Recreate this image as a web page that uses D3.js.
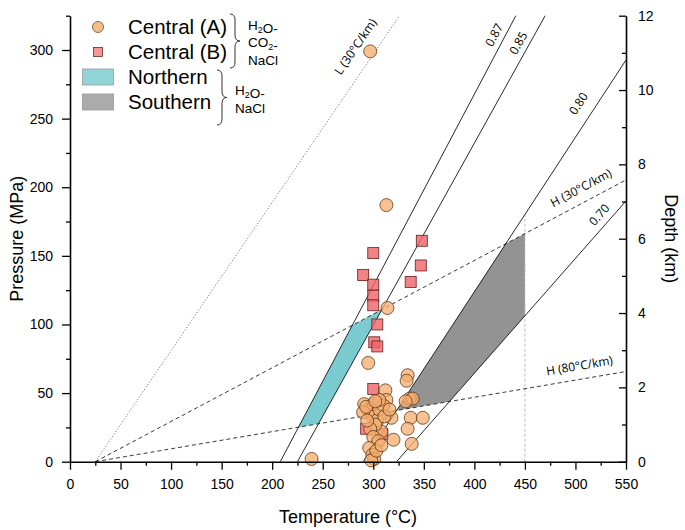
<!DOCTYPE html>
<html>
<head>
<meta charset="utf-8">
<script src="https://cdn.jsdelivr.net/npm/d3@7/dist/d3.min.js"></script>
<style>
  body { margin: 0; background: #fff; }
  svg text { font-family: "Liberation Sans", Arial, sans-serif; }
</style>
</head>
<body>
<div id="chart"></div>
<script>
// data
const tempTicks = d3.range(0, 551, 50)
const pressTicks = d3.range(0, 301, 50)
const depthTicks = d3.range(0, 13, 2)

// Central (A) fluid inclusions, [T degC, P MPa]
const centralA = [
  [297, 299], [313, 187], [314, 112], [295, 72], [312, 52], [239, 2],
  [334, 63], [333, 59], [336, 46], [339, 46], [332, 44], [337, 32], [318, 32],
  [349, 32], [334, 24], [338, 13], [313, 45], [308, 22], [291, 42], [295, 37],
  [298, 34], [290, 36], [300, 42], [304, 30], [293, 40], [302, 27], [297, 24],
  [306, 38], [310, 41], [300, 18], [305, 15], [296, 10], [299, 5], [301, 2],
  [298, 1], [303, 8], [308, 12], [294, 30], [311, 33], [306, 45], [316, 38],
  [302, 44], [320, 16]
]
// Central (B)
const centralB = [
  [300, 152], [290, 136], [300, 129], [300, 121], [300, 114], [304, 100],
  [301, 87], [304, 84], [300, 53], [293, 24], [309, 20], [348, 161],
  [347, 143], [337, 131]
]

// isochores and gradients: two points each [T, P]
const iso087 = [[208, 0], [441, 325]]
const iso085 = [[225, 0], [470, 325]]
const iso080 = [[290, 0], [550, 292.7]]
const iso070 = [[323, 0], [550, 190]]
const hydro30 = [[25, 0], [550, 205.3]]
const hydro80 = [[25, 0], [550, 65.7]]
const litho30 = [[25, 0], [326, 325]]
const tempCut = 450

const W = 685, H = 530
const M = {left: 70, right: 59, top: 15.7, bottom: 68.3}

const x = d3.scaleLinear().domain([0, 550]).range([M.left, W - M.right])
const y = d3.scaleLinear().domain([0, 325]).range([H - M.bottom, M.top])
const yDepth = d3.scaleLinear().domain([0, 12]).range([H - M.bottom, M.top])

const svg = d3.select("#chart").append("svg")
    .attr("width", W)
    .attr("height", H)

/// helpers
const slope = l => (l[1][1] - l[0][1]) / (l[1][0] - l[0][0])
const pAt = (l, t) => l[0][1] + slope(l) * (t - l[0][0])
const cross = (a, b) => {
    // intersection of two straight lines in T-P space
    const t = (b[0][1] - a[0][1] + slope(a) * a[0][0] - slope(b) * b[0][0]) / (slope(a) - slope(b))
    return [t, pAt(a, t)]
}
const angle = l => Math.atan2(y(l[1][1]) - y(l[0][1]), x(l[1][0]) - x(l[0][0])) * 180 / Math.PI

const line = d3.line().x(d => x(d[0])).y(d => y(d[1]))

// regions, both bounded by the two hydrostatic gradients
const northern = [cross(iso087, hydro80), cross(iso085, hydro80), cross(iso085, hydro30), cross(iso087, hydro30)]
const southern = [cross(iso080, hydro80), cross(iso070, hydro80), [tempCut, pAt(iso070, tempCut)],
                  [tempCut, pAt(hydro30, tempCut)], cross(iso080, hydro30)]

svg.append("path")
    .attr("d", line(northern) + "Z")
    .style("fill", "#79cbcf")

svg.append("path")
    .attr("d", line(southern) + "Z")
    .style("fill", "#939393")

// vertical cut at 450
svg.append("path")
    .attr("d", line([[tempCut, 0], [tempCut, pAt(iso080, tempCut)]]))
    .style("fill", "none").style("stroke", "#aaa").style("stroke-width", 0.8)
    .style("stroke-dasharray", "3,2")

// lines
const lines = [
    {pts: litho30, dash: "1,2", color: "#555"},
    {pts: hydro30, dash: "4,3", color: "#222"},
    {pts: hydro80, dash: "4,3", color: "#222"},
    {pts: iso087, dash: null, color: "#111"},
    {pts: iso085, dash: null, color: "#111"},
    {pts: iso080, dash: null, color: "#111"},
    {pts: iso070, dash: null, color: "#111"}
]
svg.selectAll("path.gline")
    .data(lines)
    .join("path")
        .attr("class", "gline")
        .attr("d", d => line(d.pts))
        .style("fill", "none")
        .style("stroke", d => d.color)
        .style("stroke-width", 0.9)
        .style("stroke-dasharray", d => d.dash)

// line labels
const labels = [
    {text: "L (30°C/km)", at: [282.5, 302.5], l: litho30},
    {text: "0.87", at: [419.5, 311], l: iso087},
    {text: "0.85", at: [443.5, 305], l: iso085},
    {text: "0.80", at: [503, 261], l: iso080},
    {text: "H (30°C/km)", at: [505.5, 199.5], l: hydro30},
    {text: "0.70", at: [523.5, 180], l: iso070},
    {text: "H (80°C/km)", at: [504, 70], l: hydro80}
]
svg.selectAll("text.llabel")
    .data(labels)
    .join("text")
        .attr("class", "llabel")
        .attr("transform", d => `translate(${x(d.at[0])},${y(d.at[1])}) rotate(${angle(d.l)})`)
        .attr("text-anchor", "middle")
        .attr("dy", "0.35em")
        .style("font-family", "'Open Sans', sans-serif")
        .style("font-size", "12px")
        .text(d => d.text)

// points
svg.selectAll("rect.cb")
    .data(centralB)
    .join("rect")
        .attr("class", "cb")
        .attr("x", d => x(d[0]) - 5.5)
        .attr("y", d => y(d[1]) - 5.5)
        .attr("width", 11)
        .attr("height", 11)
        .style("fill", "#ee6468")
        .style("fill-opacity", 0.8)
        .style("stroke", "#6b1c1c")
        .style("stroke-width", 0.8)

svg.selectAll("circle.ca")
    .data(centralA)
    .join("circle")
        .attr("class", "ca")
        .attr("cx", d => x(d[0]))
        .attr("cy", d => y(d[1]))
        .attr("r", 6.5)
        .style("fill", "#f4ac6e")
        .style("fill-opacity", 0.75)
        .style("stroke", "#5e3b1c")
        .style("stroke-width", 0.8)

// axes
const axisStyle = g => {
    g.select(".domain").style("stroke-width", 1.6)
    g.selectAll(".tick line").style("stroke-width", 1.3)
    g.selectAll(".tick text").style("font-size", "14px").style("font-family", "'Liberation Sans', Arial, sans-serif")
}

const xAxis = svg.append("g")
    .attr("transform", `translate(0,${H - M.bottom})`)
xAxis.append("g")
    .call(d3.axisBottom(x).tickValues(d3.range(25, 551, 50)).tickSize(4).tickFormat("").tickSizeOuter(0))
    .call(g => g.select(".domain").remove())
    .call(g => g.selectAll(".tick line").style("stroke-width", 1.3))
xAxis.append("g")
    .call(d3.axisBottom(x).tickValues(tempTicks).tickSize(8).tickPadding(9).tickSizeOuter(0))
    .call(axisStyle)

const yAxis = svg.append("g")
    .attr("transform", `translate(${M.left},0)`)
yAxis.append("g")
    .call(d3.axisLeft(y).tickValues(d3.range(25, 326, 50)).tickSize(4).tickFormat("").tickSizeOuter(0))
    .call(g => g.select(".domain").remove())
    .call(g => g.selectAll(".tick line").style("stroke-width", 1.3))
yAxis.append("g")
    .call(d3.axisLeft(y).tickValues(pressTicks).tickSize(8).tickPadding(9).tickSizeOuter(0))
    .call(axisStyle)

const dAxis = svg.append("g")
    .attr("transform", `translate(${W - M.right},0)`)
dAxis.append("g")
    .call(d3.axisLeft(yDepth).tickValues(d3.range(1, 12, 2)).tickSize(4).tickFormat("").tickSizeOuter(0))
    .call(g => g.select(".domain").remove())
    .call(g => g.selectAll(".tick line").style("stroke-width", 1.3))
dAxis.append("g")
    .call(d3.axisLeft(yDepth).tickValues(depthTicks).tickSize(7).tickSizeOuter(0))
    .call(axisStyle)
    .call(g => g.selectAll(".tick text").attr("x", 12).attr("text-anchor", "start"))

// axis titles
svg.append("text")
    .attr("x", (x(0) + x(550)) / 2)
    .attr("y", 523)
    .attr("text-anchor", "middle")
    .style("font-size", "18px")
    .text("Temperature (°C)")

svg.append("text")
    .attr("transform", `translate(23,${(y(0) + y(325)) / 2}) rotate(-90)`)
    .attr("text-anchor", "middle")
    .style("font-size", "18px")
    .text("Pressure (MPa)")

svg.append("text")
    .attr("transform", `translate(665,${(y(0) + y(325)) / 2}) rotate(90)`)
    .attr("text-anchor", "middle")
    .style("font-size", "18px")
    .text("Depth (km)")

// legend
const legendKeys = ["Central (A)", "Central (B)", "Northern", "Southern"]
const legend = svg.append("g").attr("transform", "translate(98,27)")
const rowH = 25

legend.append("circle").attr("cx", 0).attr("cy", 0).attr("r", 5.5)
    .style("fill", "#f6c08e").style("stroke", "#6b4b2b").style("stroke-width", 0.8)
legend.append("rect").attr("x", -4.5).attr("y", rowH - 4.5).attr("width", 9).attr("height", 9)
    .style("fill", "#f29696").style("stroke", "#6b2b2b").style("stroke-width", 0.8)
legend.append("rect").attr("x", -15.5).attr("y", 2 * rowH - 8).attr("width", 31).attr("height", 16)
    .style("fill", "#92d4d7").style("stroke", "#999").style("stroke-width", 0.8)
legend.append("rect").attr("x", -15.5).attr("y", 3 * rowH - 8).attr("width", 31).attr("height", 16)
    .style("fill", "#ababab").style("stroke", "#999").style("stroke-width", 0.8)

legend.selectAll("text.lg")
    .data(legendKeys)
    .join("text")
        .attr("class", "lg")
        .attr("x", 30)
        .attr("y", (d, i) => i * rowH)
        .attr("dy", "0.35em")
        .style("font-size", "20.5px")
        .text(d => d)

// curly braces
const brace = (x0, y0, y1, w) => {
    const ym = (y0 + y1) / 2, r = Math.min(6, (y1 - y0) / 4)
    return `M${x0},${y0} Q${x0 + w},${y0} ${x0 + w},${y0 + r} L${x0 + w},${ym - r}` +
        ` Q${x0 + w},${ym} ${x0 + 2 * w},${ym} Q${x0 + w},${ym} ${x0 + w},${ym + r}` +
        ` L${x0 + w},${y1 - r} Q${x0 + w},${y1} ${x0},${y1}`
}
svg.append("path").attr("d", brace(230, 14, 68, 5))
    .style("fill", "none").style("stroke", "#333").style("stroke-width", 1)
svg.append("path").attr("d", brace(217, 70, 125, 5))
    .style("fill", "none").style("stroke", "#333").style("stroke-width", 1)

const chem = (x0, y0, parts) => {
    const t = svg.append("text").attr("x", x0).attr("y", y0).style("font-size", "13.5px")
    parts.forEach(p => {
        t.append("tspan").text(p[0])
        if (p[1]) t.append("tspan").attr("dy", 3).style("font-size", "9px").text(p[1])
        if (p[1]) t.append("tspan").attr("dy", -3).text("")
    })
    return t
}
chem(248, 30, [["H", "2"], ["O-"]])
chem(248, 47, [["CO", "2"], ["-"]])
chem(248, 65, [["NaCl"]])
chem(235, 95, [["H", "2"], ["O-"]])
chem(235, 113, [["NaCl"]])
</script>
</body>
</html>
